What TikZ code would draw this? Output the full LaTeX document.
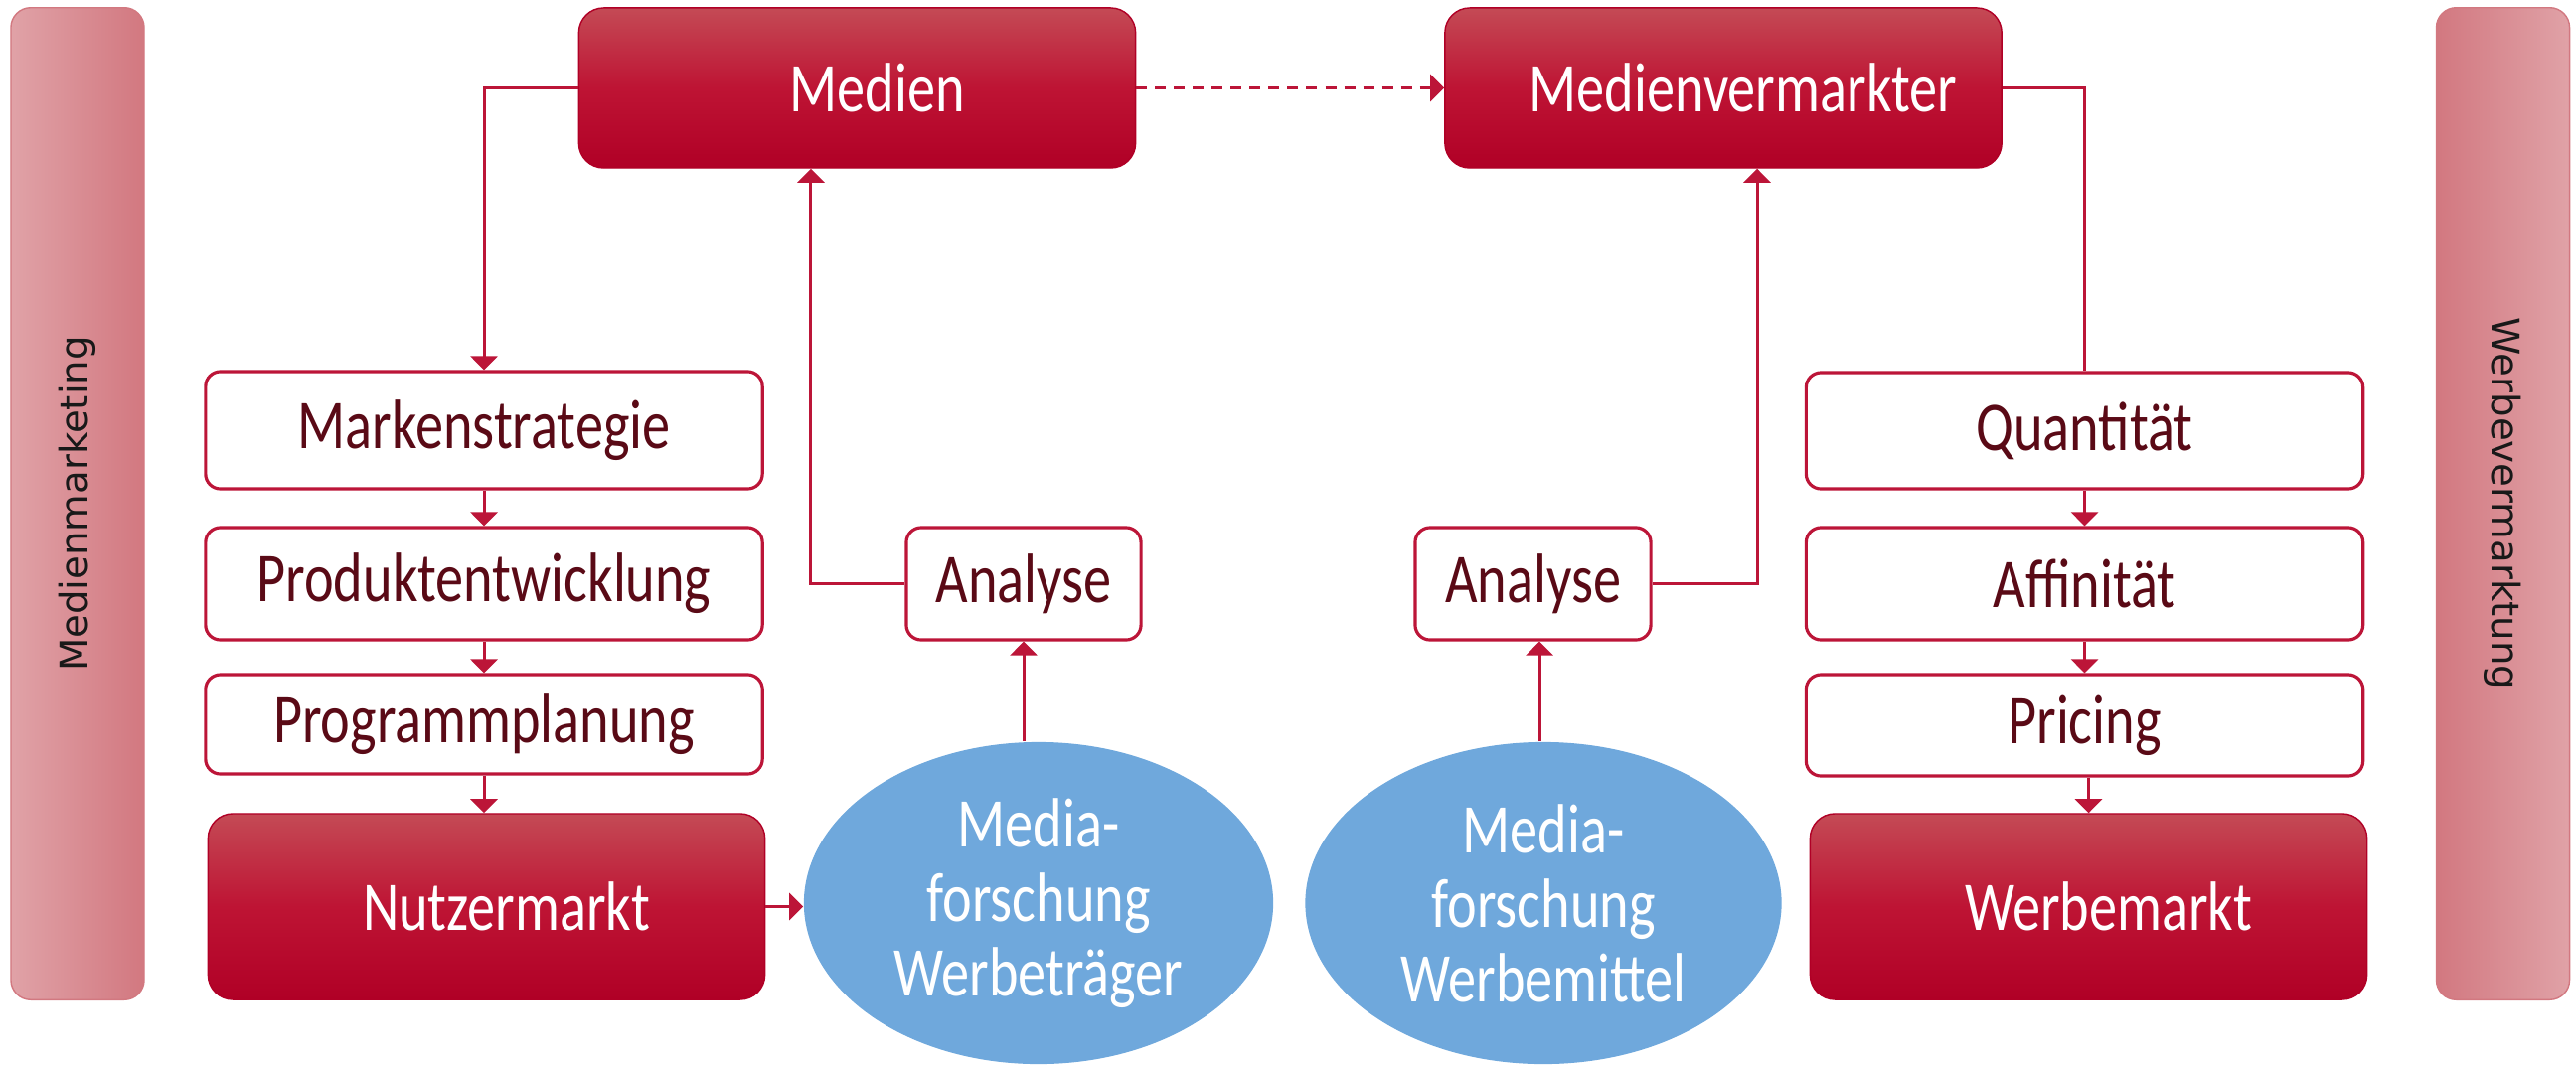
\documentclass[tikz,border=0pt]{standalone}
\usepackage{fontspec}
\usetikzlibrary{shapes.geometric,arrows.meta,calc}
\newfontfamily\boxfont{Carlito}[FakeStretch=0.8]
\newfontfamily\sidefont{DejaVu Sans}
\definecolor{redtop}{HTML}{C44A55}
\definecolor{redmid}{HTML}{BE1434}
\definecolor{redbot}{HTML}{B00026}
\definecolor{lnred}{HTML}{BC1538}
\definecolor{txtred}{HTML}{5A0A16}
\definecolor{blueell}{HTML}{6FA8DC}
\definecolor{pinkl}{HTML}{E0A2A7}
\definecolor{pinkd}{HTML}{D27880}
\tikzset{
  boxtext/.style={font=\boxfont\fontsize{20}{21.3}\selectfont},
  whitebox/.style={boxtext, draw=lnred, line width=0.9pt, fill=white, rounded corners=0.15cm,
    text=txtred, inner sep=0pt, minimum width=5.6cm},
  redbox/.style={boxtext, draw=redbot, line width=0.4pt, rounded corners=0.25cm, text=white,
    top color=redtop, bottom color=redbot, middle color=redmid, inner sep=0pt, minimum width=5.6cm,
    execute at begin node={\hspace*{0.4cm}}},
  ellnode/.style={boxtext, ellipse, fill=blueell, text=white, align=center, inner sep=0pt},
  sidebar/.style={draw=pinkd, line width=0.4pt, rounded corners=0.2cm, minimum width=1.34cm,
    minimum height=9.98cm, inner sep=0pt},
  sidetext/.style={font=\sidefont\fontsize{11}{13}\selectfont, text=black!90},
  arr/.style={draw=lnred, line width=0.85pt, -{Triangle[length=0.14cm,width=0.27cm]}},
  plainln/.style={draw=lnred, line width=0.85pt},
}
\begin{document}
\begin{tikzpicture}[x=0.01cm, y=-0.01cm]
\useasboundingbox (0,0) rectangle (2592,1076);
% side bars
\node[sidebar, left color=pinkl, right color=pinkd] (barL) at (78,507) {};
\node[sidetext, rotate=90] (barLt) at (barL.center) {Medienmarketing};
\node[sidebar, left color=pinkd, right color=pinkl] (barR) at (2518.5,507) {};
\node[sidetext, rotate=-90] (barRt) at (barR.center) {Werbevermarktung};
% top red boxes
\node[redbox, minimum height=1.61cm] (medien) at (862.5,88.5) {Medien};
\node[redbox, minimum height=1.61cm] (verm) at (1734,88.5) {Medienvermarkter};
% left column
\node[whitebox, minimum height=1.18cm] (marke) at (487,433) {Markenstrategie};
\node[whitebox, minimum height=1.13cm] (prod) at (487,587.5) {Produktentwicklung};
\node[whitebox, minimum height=1.00cm] (prog) at (487,729) {Programmplanung};
\node[redbox, minimum height=1.87cm] (nutz) at (489.5,912.5) {Nutzermarkt};
% right column
\node[whitebox, minimum height=1.17cm] (quant) at (2097.5,433.5) {Quantität};
\node[whitebox, minimum height=1.13cm] (affi) at (2097.5,587.5) {Affinität};
\node[whitebox, minimum height=1.02cm] (pric) at (2097.5,730) {Pricing};
\node[redbox, minimum height=1.87cm] (werb) at (2101.5,912.5) {Werbemarkt};
% analyse
\node[whitebox, minimum width=2.36cm, minimum height=1.13cm] (anL) at (1030,587.5) {Analyse};
\node[whitebox, minimum width=2.37cm, minimum height=1.13cm] (anR) at (1542.5,587.5) {Analyse};
% ellipses
\node[ellnode, minimum width=4.72cm, minimum height=3.24cm] (ellL) at (1045,909) {Media-\\forschung\\Werbeträger};
\node[ellnode, minimum width=4.79cm, minimum height=3.24cm] (ellR) at (1553,909) {Media-\\forschung\\Werbemittel};
% connectors
\draw[arr] (medien.west) -| (marke.north);
\draw[arr] (marke.south) -- (prod.north);
\draw[arr] (prod.south) -- (prog.north);
\draw[arr] (prog.south) -- (nutz.north -| prog.south);
\draw[arr] (nutz.east) -- (nutz.east -| ellL.west);
\draw[arr] (anL.south |- ellL.north) -- (anL.south);
\draw[arr] (anL.west) -| ([xshift=-0.465cm]medien.south);
\draw[arr, dash pattern=on 0.11cm off 0.08cm] (medien.east) -- (verm.west);
\draw[plainln] (verm.east) -| (quant.north);
\draw[arr] (quant.south) -- (affi.north);
\draw[arr] (affi.south) -- (pric.north);
\draw[arr] (werb.north |- pric.south) -- (werb.north);
\draw[arr] (anR.east) -| ([xshift=0.34cm]verm.south);
\draw[arr] ([xshift=0.065cm]anR.south |- ellR.north) -- ([xshift=0.065cm]anR.south);
\end{tikzpicture}
\end{document}
